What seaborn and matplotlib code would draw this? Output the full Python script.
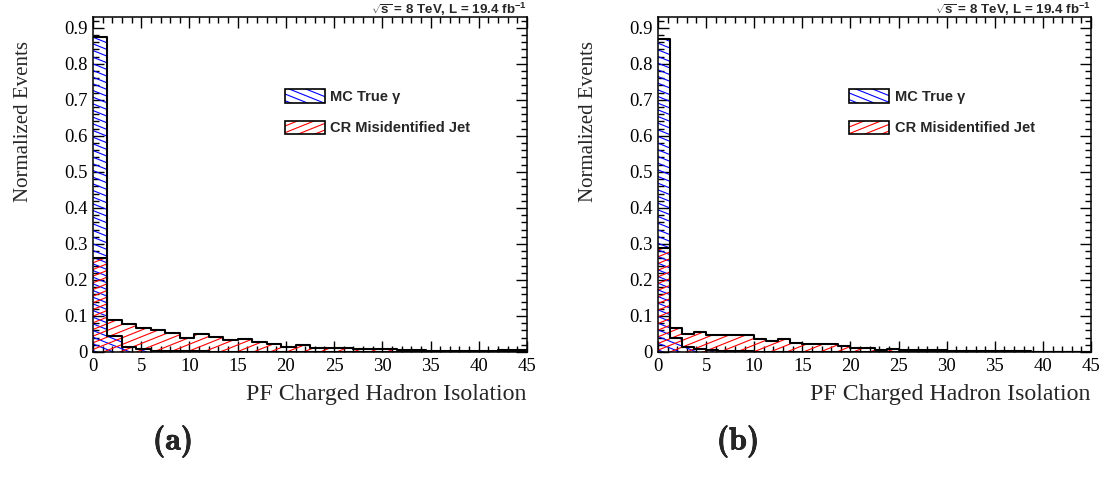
import numpy as np
import pandas as pd
import matplotlib
matplotlib.use("Agg")
import matplotlib.pyplot as plt
import matplotlib.hatch as mhatch
import matplotlib.patheffects as pe
from matplotlib.path import Path
import seaborn as sns
from matplotlib.patches import Patch
from matplotlib.legend_handler import HandlerTuple
from matplotlib.ticker import MultipleLocator, FuncFormatter
from matplotlib.font_manager import FontProperties

# ---------------- data ----------------
x_max = 45.0
bin_width_a = 1.5
bin_width_b = 1.25

mc_true_a = [0.875, 0.045, 0.015, 0.007, 0.004, 0.003, 0.002, 0.002, 0.001, 0.001,
             0.001, 0.001, 0.0005, 0.0005, 0.0005, 0.0, 0.0, 0.0, 0.0, 0.0,
             0.0, 0.0, 0.0, 0.0, 0.0, 0.0, 0.0, 0.0, 0.0, 0.0]
cr_jet_a = [0.26, 0.088, 0.077, 0.068, 0.060, 0.054, 0.040, 0.049, 0.042, 0.032,
            0.037, 0.029, 0.023, 0.014, 0.019, 0.012, 0.012, 0.012, 0.007, 0.007,
            0.008, 0.006, 0.006, 0.002, 0.002, 0.002, 0.002, 0.002, 0.005, 0.005]

mc_true_b = [0.87, 0.040, 0.015, 0.008, 0.005, 0.003, 0.002, 0.002, 0.001, 0.001,
             0.001, 0.001, 0.0005, 0.0005, 0.0005, 0.0, 0.0, 0.0, 0.0, 0.0,
             0.0, 0.0, 0.0, 0.0, 0.0, 0.0, 0.0, 0.0, 0.0, 0.0,
             0.0, 0.0, 0.0, 0.0, 0.0, 0.0]
cr_jet_b = [0.29, 0.066, 0.049, 0.056, 0.048, 0.048, 0.048, 0.048, 0.037, 0.031,
            0.035, 0.026, 0.023, 0.021, 0.023, 0.016, 0.012, 0.012, 0.005, 0.009,
            0.005, 0.005, 0.005, 0.005, 0.004, 0.003, 0.003, 0.004, 0.002, 0.002,
            0.003, 0.001, 0.001, 0.001, 0.001, 0.001]

series_names = ["MC True \u03b3", "CR Misidentified Jet"]
panel_tags = ["(a)", "(b)"]
x_title = "PF Charged Hadron Isolation"
y_title = "Normalized Events"
lumi_text = r"$\sqrt{\mathrm{s}}$ = 8 TeV, L = 19.4 fb$^{\mathrm{-1}}$"

# ---------------- ROOT-like shallow hatch styles ----------------
HATCH_SLOPE = 0.4
LINES_PER_TILE = 15


class _SlantHatch(mhatch.HatchPatternBase):
    char = "/"
    sign = 1

    def __init__(self, hatch, density):
        n = hatch.count(self.char) * LINES_PER_TILE
        self.n = n
        if n:
            extra = int(np.ceil(HATCH_SLOPE * n)) + 1
            if self.sign > 0:
                ks = np.arange(-extra, n + 2)
            else:
                ks = np.arange(-1, n + extra + 1)
            self.offsets = ks / n
            self.num_vertices = 2 * len(ks)
        else:
            self.num_vertices = 0

    def set_vertices_and_codes(self, vertices, codes):
        x0, x1 = -0.1, 1.1
        m = self.sign * HATCH_SLOPE
        vertices[0::2, 0] = x0
        vertices[0::2, 1] = self.offsets + m * x0
        vertices[1::2, 0] = x1
        vertices[1::2, 1] = self.offsets + m * x1
        codes[0::2] = Path.MOVETO
        codes[1::2] = Path.LINETO


class RisingHatch(_SlantHatch):
    char = "/"
    sign = 1


class FallingHatch(_SlantHatch):
    char = "\\"
    sign = -1


mhatch._hatch_types[mhatch._hatch_types.index(mhatch.NorthEastHatch)] = RisingHatch
mhatch._hatch_types[mhatch._hatch_types.index(mhatch.SouthEastHatch)] = FallingHatch

# ---------------- style ----------------
sns.set_theme(style="ticks")
plt.rcParams["font.family"] = ["Liberation Serif", "DejaVu Serif"]
plt.rcParams["mathtext.fontset"] = "custom"
plt.rcParams["mathtext.rm"] = "Liberation Sans:bold"
plt.rcParams["mathtext.it"] = "Liberation Sans:bold:italic"
plt.rcParams["mathtext.bf"] = "Liberation Sans:bold"
plt.rcParams["hatch.linewidth"] = 0.8
plt.rcParams["axes.linewidth"] = 1.1

BLUE = "#0000ff"
RED = "#ff0000"
HATCH_BLUE = "\\"
HATCH_RED = "/"

fig = plt.figure(figsize=(11.02, 4.80), dpi=100)
ax_a = fig.add_axes([93 / 1102, 128 / 480, 434 / 1102, 335 / 480])
ax_b = fig.add_axes([658 / 1102, 128 / 480, 433 / 1102, 335 / 480])

panels = [
    (ax_a, bin_width_a, mc_true_a, cr_jet_a),
    (ax_b, bin_width_b, mc_true_b, cr_jet_b),
]

legend_font = FontProperties(family="Liberation Sans", weight="bold", size=10.5)

for ax, bw, mc_vals, cr_vals in panels:
    nb = len(mc_vals)
    centers = (np.arange(nb) + 0.5) * bw
    df = pd.DataFrame({"iso": centers, "mc": mc_vals, "cr": cr_vals})
    common = dict(data=df, x="iso", bins=nb, binrange=(0.0, x_max), ax=ax)

    # hatched fills
    sns.histplot(weights="mc", element="bars", fill=True, facecolor="none",
                 edgecolor=BLUE, linewidth=0, hatch=HATCH_BLUE, **common)
    sns.histplot(weights="cr", element="bars", fill=True, facecolor="none",
                 edgecolor=RED, linewidth=0, hatch=HATCH_RED, **common)
    # black outlines
    sns.histplot(weights="mc", element="step", fill=False, color="black",
                 linewidth=1.5, **common)
    sns.histplot(weights="cr", element="step", fill=False, color="black",
                 linewidth=1.5, **common)

    ax.set_xlim(0, x_max)
    ax.set_ylim(0, 0.93)
    ax.xaxis.set_major_locator(MultipleLocator(5))
    ax.xaxis.set_minor_locator(MultipleLocator(1))
    ax.yaxis.set_major_locator(MultipleLocator(0.1))
    ax.yaxis.set_minor_locator(MultipleLocator(0.02))
    ax.xaxis.set_major_formatter(FuncFormatter(lambda v, _: f"{v:.0f}"))
    ax.yaxis.set_major_formatter(FuncFormatter(lambda v, _: "0" if abs(v) < 1e-9 else f"{v:.1f}"))
    ax.tick_params(which="both", direction="in", top=True, right=True,
                   width=1.0, colors="black", labelsize=13.5)
    ax.tick_params(which="major", length=8, pad=4)
    ax.tick_params(which="minor", length=4)
    for s in ax.spines.values():
        s.set_visible(True)
        s.set_color("black")

    ax.set_xlabel(x_title, fontsize=17.2, ha="right")
    ax.xaxis.set_label_coords(1.0, -0.095)
    ax.set_ylabel(y_title, fontsize=15)
    ax.yaxis.set_label_coords(-0.139, 0.687)

    ax.text(1.0, 1.009, lumi_text, transform=ax.transAxes, ha="right", va="baseline",
            fontsize=9.6, family="Liberation Sans", weight="bold")

    handles = [
        (Patch(facecolor="none", edgecolor=BLUE, hatch=HATCH_BLUE, linewidth=0),
         Patch(facecolor="none", edgecolor="black", linewidth=1.2)),
        (Patch(facecolor="none", edgecolor=RED, hatch=HATCH_RED, linewidth=0),
         Patch(facecolor="none", edgecolor="black", linewidth=1.2)),
    ]
    ax.legend(handles, series_names, handler_map={tuple: HandlerTuple(ndivide=1, pad=0)},
              loc="upper left", bbox_to_anchor=(0.442, 0.785), frameon=False,
              prop=legend_font, handlelength=2.75, handleheight=1.05,
              labelspacing=1.15, handletextpad=0.35, borderaxespad=0, borderpad=0)

bold_fx = [pe.withStroke(linewidth=0.5, foreground="black")]
fig.text(173 / 1102, 1 - 441 / 480, panel_tags[0], family="cmb10", fontsize=23,
         ha="center", va="center", path_effects=bold_fx)
fig.text(738 / 1102, 1 - 441 / 480, panel_tags[1], family="cmb10", fontsize=23,
         ha="center", va="center", path_effects=bold_fx)

fig.savefig("out.png", dpi=100)
